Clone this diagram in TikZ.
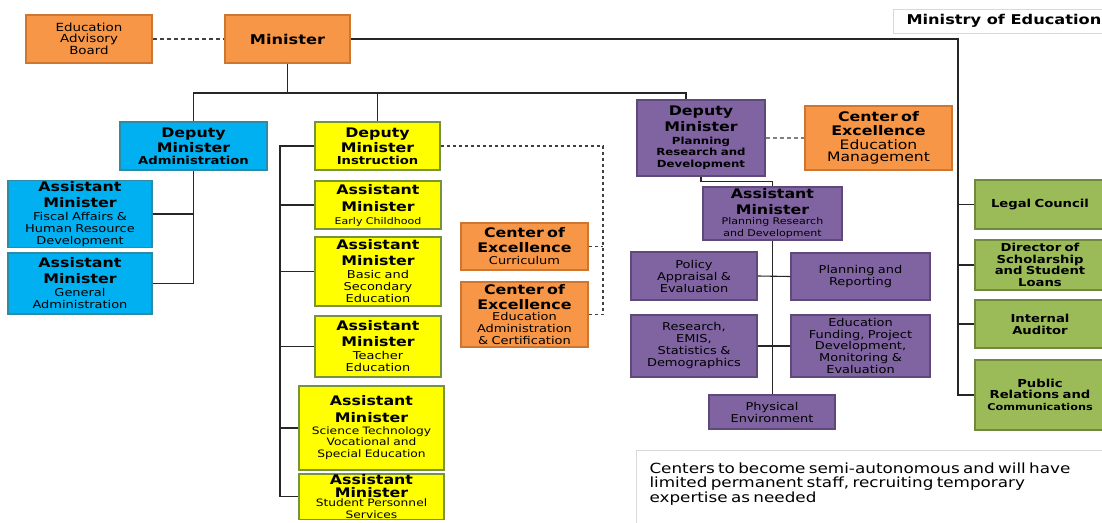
\documentclass[tikz,border=0pt]{standalone}
\usepackage{fontspec}
\setmainfont{DejaVu Sans}[FakeStretch=1.2]
\definecolor{orgfill}{HTML}{F79646}
\definecolor{orgline}{HTML}{CD7632}
\definecolor{bluefill}{HTML}{00B0F0}
\definecolor{blueline}{HTML}{2E8BA6}
\definecolor{yelfill}{HTML}{FFFF00}
\definecolor{yelline}{HTML}{77933C}
\definecolor{purfill}{HTML}{8064A2}
\definecolor{purline}{HTML}{5F497A}
\definecolor{grnfill}{HTML}{9BBB59}
\definecolor{grnline}{HTML}{71893F}
\definecolor{framegray}{HTML}{D9D9D9}
\newcommand{\hdfont}{\fontsize{13.2}{14}\selectfont\bfseries}
\newcommand{\subfont}{\fontsize{10.8}{12}\selectfont\mdseries}
\newcommand{\tinyfont}{\fontsize{9.2}{10.5}\selectfont\mdseries}
\newcommand{\subbold}{\fontsize{11}{11.5}\selectfont\bfseries}
\tikzset{
  box/.style={draw, line width=1.6pt, align=center, text width=122, inner sep=1pt, text=black},
  orangebox/.style={box, fill=orgfill, draw=orgline},
  bluebox/.style={box, fill=bluefill, draw=blueline},
  yellowbox/.style={box, fill=yelfill, draw=yelline},
  purplebox/.style={box, fill=purfill, draw=purline},
  greenbox/.style={box, fill=grnfill, draw=grnline},
  framebox/.style={draw=framegray, line width=1pt, fill=white, text=black},
  link/.style={line width=1.1pt, draw=black!85},
  dashlink/.style={line width=1.1pt, draw=black!75, dash pattern=on 3pt off 3pt}
}
\begin{document}
\begin{tikzpicture}[x=1pt, y=-1pt]
      \path[use as bounding box, clip] (0,0) rectangle (1102,522);
      \fill[white] (0,0) rectangle (1102,522);
      \path
        (89,39) node[orangebox, minimum width=126, minimum height=48] (board)
          {\fontsize{11.2}{11.5}\selectfont Education\\Advisory\\Board}
        (287.5,39) node[orangebox, minimum width=125, minimum height=48] (minister)
          {\fontsize{13.5}{15}\selectfont\bfseries Minister}
        (893,21) node[framebox, anchor=west, minimum height=24, inner xsep=13] (title)
          {\fontsize{13.5}{15}\selectfont\bfseries Ministry of Education}
        (193.5,146) node[bluebox, minimum width=147, minimum height=48] (depadmin)
          {\hdfont Deputy\\[1pt]Minister\\\subbold Administration}
        (377.5,146) node[yellowbox, minimum width=125, minimum height=48] (depinst)
          {\hdfont Deputy\\[1pt]Minister\\\subbold Instruction}
        (701,138) node[purplebox, minimum width=128, minimum height=76] (depplan)
          {\hdfont Deputy\\[2pt]Minister\\[2pt]\fontsize{9.8}{11}\selectfont Planning\\Research and\\Development}
        (878.5,138) node[orangebox, minimum width=147, minimum height=64] (coemgmt)
          {\hdfont Center of\\Excellence\\\fontsize{13}{13.5}\selectfont\mdseries Education\\Management};
      \path
        (80,214) node[bluebox, minimum width=144, minimum height=66] (amfisc)
          {\hdfont Assistant\\[2pt]Minister\\[1pt]\subfont Fiscal Affairs \&\\Human Resource\\Development}
        (80,283.5) node[bluebox, minimum width=144, minimum height=61] (amgen)
          {\hdfont Assistant\\[2pt]Minister\\[1pt]\subfont General\\Administration}
        (378,205) node[yellowbox, minimum width=126, minimum height=48] (amearly)
          {\hdfont Assistant\\[3pt]Minister\\[1pt]\tinyfont Early Childhood}
        (378,271.5) node[yellowbox, minimum width=126, minimum height=69] (ambasic)
          {\hdfont Assistant\\[2pt]Minister\\[1pt]\subfont Basic and\\Secondary\\Education}
        (378,346.5) node[yellowbox, minimum width=126, minimum height=61] (amteach)
          {\hdfont Assistant\\[2pt]Minister\\[1pt]\subfont Teacher\\Education}
        (371.5,428) node[yellowbox, minimum width=145, minimum height=84] (amsci)
          {\hdfont Assistant\\[3pt]Minister\\[1pt]\fontsize{10.2}{11}\selectfont\mdseries Science Technology\\Vocational and\\Special Education}
        (371.5,473) node[yellowbox, anchor=north, minimum width=145, inner ysep=1] (amstud)
          {\hdfont Assistant\\[-1.5pt]Minister\\[-1.5pt]\fontsize{10.2}{10.5}\selectfont\mdseries Student Personnel\\Services}
        (524.5,246.5) node[orangebox, minimum width=127, minimum height=47] (coecur)
          {\hdfont Center of\\[1pt]Excellence\\\subfont Curriculum}
        (524.5,314.5) node[orangebox, minimum width=127, minimum height=65] (coeadm)
          {\hdfont Center of\\[1pt]Excellence\\\fontsize{10.8}{11.5}\selectfont\mdseries Education\\Administration\\\& Certification};
      \path
        (772.5,213.5) node[purplebox, minimum width=139, minimum height=47] (amplan)
          {\hdfont Assistant\\[2pt]Minister\\\tinyfont Planning Research\\and Development}
        (694,276) node[purplebox, minimum width=126, minimum height=48] (policy)
          {\subfont Policy\\Appraisal \&\\Evaluation}
        (860.5,276.5) node[purplebox, minimum width=139, minimum height=47] (planrep)
          {\subfont Planning and\\Reporting}
        (694,346) node[purplebox, minimum width=126, minimum height=62] (research)
          {\subfont Research,\\EMIS,\\Statistics \&\\Demographics}
        (860.5,346) node[purplebox, minimum width=139, minimum height=62] (funding)
          {\fontsize{10.8}{11.5}\selectfont Education\\Funding, Project\\Development,\\Monitoring \&\\Evaluation}
        (772,412) node[purplebox, minimum width=126, minimum height=34] (physenv)
          {\subfont Physical\\Environment};
      \path
        (1040,204.5) node[greenbox, minimum width=130, minimum height=49] (legal)
          {\subbold Legal Council}
        (1040,265) node[greenbox, minimum width=130, minimum height=50] (scholar)
          {\subbold Director of\\Scholarship\\and Student\\Loans}
        (1040,324) node[greenbox, minimum width=130, minimum height=48] (auditor)
          {\subbold Internal\\Auditor}
        (1040,395) node[greenbox, minimum width=130, minimum height=70] (pubrel)
          {\subbold Public\\Relations and\\\fontsize{9.4}{11}\selectfont Communications}
        (636,450) node[framebox, anchor=north west, text width=480, align=left,
          inner xsep=13, inner ysep=12, text depth=50] (note)
          {\fontsize{14}{14.5}\selectfont Centers to become semi-autonomous and will have\\
           limited permanent staff, recruiting temporary\\ expertise as needed};
      % connectors
      \coordinate (rbus) at (958,39);
      \coordinate (topbus) at (287.5,93);
      \coordinate (planjoin) at (686,93);
      \coordinate (ibus) at (280,146);
      \coordinate (cbus) at (603,146);
      \begin{scope}[link]
        \draw (minister.east) to (rbus) |- (pubrel.west);
        \draw (rbus |- legal.west) to (legal.west);
        \draw (rbus |- scholar.west) to (scholar.west);
        \draw (rbus |- auditor.west) to (auditor.west);
        \draw (minister.south) to (topbus);
        \draw (depadmin.north) |- (planjoin) to (planjoin |- depplan.north);
        \draw (depinst.north) to (depinst.north |- topbus);
        \draw (depadmin.south) |- (amgen.east);
        \draw (amfisc.east) to (amfisc.east -| depadmin.south);
        \draw (depinst.west) to (ibus) |- (amstud.west);
        \draw (ibus |- amearly.west) to (amearly.west);
        \draw (ibus |- ambasic.west) to (ambasic.west);
        \draw (ibus |- amteach.west) to (amteach.west);
        \draw (ibus |- amsci.west) to (amsci.west);
        \draw (depplan.south) to ++(0,5) -| (amplan.north);
        \draw (amplan.south) to (amplan.south |- physenv.north);
        \draw (policy.east) to (planrep.west);
        \draw (research.east) to (funding.west);
      \end{scope}
      \begin{scope}[dashlink]
        \draw[dash pattern=on 4pt off 3pt] (board.east) to (minister.west);
        \draw (depinst.east) to (cbus) |- (coeadm.east);
        \draw (coecur.east) to (coecur.east -| cbus);
        \draw[draw=black!50, dash pattern=on 4pt off 3pt] (depplan.east) to (coemgmt.west);
      \end{scope}
    \end{tikzpicture}
\end{document}
